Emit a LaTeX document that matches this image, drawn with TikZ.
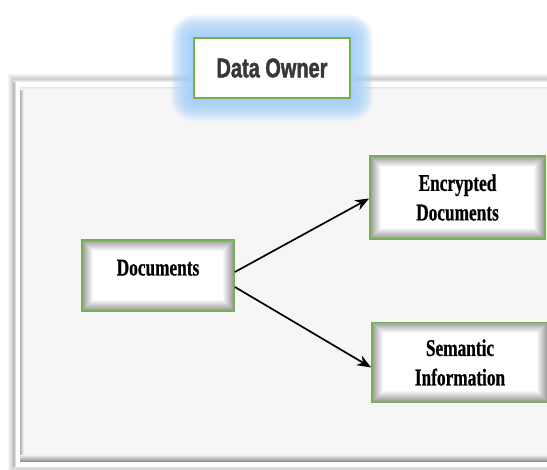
\documentclass[tikz,border=0pt]{standalone}
\usepackage{fontspec}
\setmainfont{Liberation Serif}
\newfontfamily\boxfont[FakeStretch=0.72,BoldFeatures={FakeBold=0.6}]{Liberation Serif}
\newfontfamily\headfont[FakeStretch=0.74,BoldFeatures={FakeBold=1.6}]{Liberation Sans}
\usetikzlibrary{arrows.meta}
\definecolor{boxgreen}{HTML}{74B04F}
\definecolor{glowblue}{HTML}{A2D0F8}
\definecolor{panelgray}{HTML}{F6F6F6}
\definecolor{headgray}{HTML}{383838}
\pgfdeclarelayer{bg}
\pgfdeclarelayer{glow}
\pgfsetlayers{bg,glow,main}

\tikzset{
  card/.style={
    draw=boxgreen, line width=1.8pt, fill=white, inner sep=0pt,
    align=center, font=\boxfont\bfseries\fontsize{24}{29.5}\selectfont,
    path picture={
      \foreach \k in {0,...,11}{
        \pgfmathsetmacro\shade{max(0,40-3.7*\k)}
        \fill[black!\shade!white]
          ([shift={(\k,\k)}]path picture bounding box.north west) rectangle
          ([shift={(-\k,-\k)}]path picture bounding box.south east);
      }
    }
  },
  headbox/.style={
    draw=boxgreen, line width=1.6pt, fill=white, inner sep=0pt,
    font=\headfont\bfseries\fontsize{27}{30}\selectfont, text=headgray
  },
  flow/.style={black, line width=1.7pt, -{Stealth[length=14pt,width=11pt]}}
}

\begin{document}
\begin{tikzpicture}[x=1pt,y=-1pt]
\useasboundingbox (0,0) rectangle (547,470);
\clip (0,0) rectangle (547,470);

% boxes
\node[headbox, minimum width=156, minimum height=60] (owner) at (272,68) {Data Owner};
\node[card, minimum width=152, minimum height=71, text height=8pt, text depth=8pt] (docs) at (158,275.5) {Documents};
\node[card, minimum width=175, minimum height=83] (enc) at (457.5,197.5) {Encrypted\\Documents};
\node[card, minimum width=176, minimum height=80] (sem) at (460,362.5) {Semantic\\Information};

% connectors
\draw[flow] ([yshift=3.5pt]docs.east) -- ([yshift=-1pt]enc.west);
\draw[flow] ([yshift=-11.5pt]docs.east) -- ([yshift=-5pt]sem.west);

% framed panel behind everything
\begin{pgfonlayer}{bg}
  \fill[white] (0,0) rectangle (547,470);
  \foreach \k in {1,...,5}
    \fill[black, opacity=0.035] (13-\k,79-\k) rectangle (620,468+\k);
  \fill[white] (13,79) rectangle (620,468);
  \foreach \k in {0,1,2}
    \draw[black!\the\numexpr 30-8*\k\relax, line width=1pt] (13.5+\k,79) -- (13.5+\k,468);
  \foreach \k in {0,1,2}
    \draw[black!\the\numexpr 18-5*\k\relax, line width=1pt] (13,79.5+\k) -- (620,79.5+\k);
  \fill[panelgray] (20,87) rectangle (620,462);
  \foreach \k in {0,...,3}
    \draw[black!\the\numexpr 32-8*\k\relax, line width=1pt] (20.5+\k,87) -- (20.5+\k,462);
  \foreach \k in {0,1,2}
    \draw[black!\the\numexpr 10-3*\k\relax, line width=1pt] (20,87.5+\k) -- (620,87.5+\k);
  \foreach \k in {0,...,6}
    \draw[black!\the\numexpr 6+6*\k\relax, line width=1pt] (20,455.5+\k) -- (620,455.5+\k);
  \draw[black!10, line width=1pt] (13,467.5) -- (620,467.5);
\end{pgfonlayer}

% soft blue halo round the owner box
\begin{pgfonlayer}{glow}
  \foreach \k in {1,...,22}
    \fill[glowblue, opacity=0.09, rounded corners=\k pt]
      ([shift={(-\k,-\k)}]owner.north west) rectangle ([shift={(\k,\k)}]owner.south east);
\end{pgfonlayer}
\end{tikzpicture}
\end{document}
